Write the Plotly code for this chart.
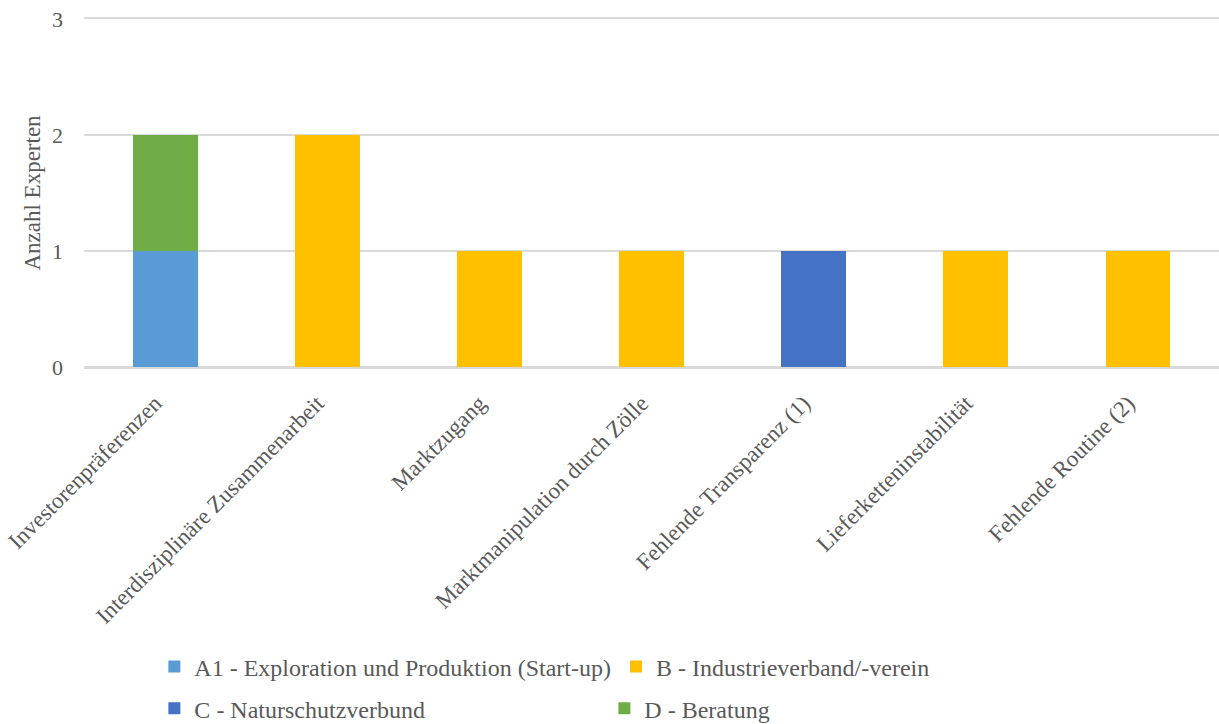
import plotly.graph_objects as go

# Kategorien (Hemmnisse) und Anzahl der Experten je Gruppe
categories = [
    "Investorenpräferenzen",
    "Interdisziplinäre Zusammenarbeit",
    "Marktzugang",
    "Marktmanipulation durch Zölle",
    "Fehlende Transparenz (1)",
    "Lieferketteninstabilität",
    "Fehlende Routine (2)",
]
a1_values = [1, 0, 0, 0, 0, 0, 0]
b_values = [0, 2, 1, 1, 0, 1, 1]
c_values = [0, 0, 0, 0, 1, 0, 0]
d_values = [1, 0, 0, 0, 0, 0, 0]

series_names = [
    "A1 - Exploration und Produktion (Start-up)",
    "B - Industrieverband/-verein",
    "C - Naturschutzverbund",
    "D - Beratung",
]
series_colors = ["#5B9BD5", "#FFC000", "#4472C4", "#70AD47"]
series_values = [a1_values, b_values, c_values, d_values]
series_legend = ["legend", "legend", "legend2", "legend2"]

y_ticks = [0, 1, 2, 3]

FONT = "Liberation Serif"
GREY = "#595959"
GRID = "#D9D9D9"

fig = go.Figure()
for name, color, vals, leg in zip(series_names, series_colors, series_values, series_legend):
    fig.add_trace(
        go.Bar(
            x=categories,
            y=[v if v else None for v in vals],
            name=name,
            marker=dict(color=color, line=dict(width=0)),
            width=0.4,
            legend=leg,
        )
    )

legend_style = dict(
    orientation="h",
    traceorder="normal",
    xanchor="left",
    yanchor="middle",
    x=0.062,
    font=dict(family=FONT, size=24, color=GREY),
    bgcolor="rgba(0,0,0,0)",
)

fig.update_layout(
    width=1219,
    height=724,
    barmode="stack",
    plot_bgcolor="white",
    paper_bgcolor="white",
    margin=dict(l=84, r=0, t=19, b=357, autoexpand=False),
    font=dict(family=FONT, color=GREY),
    # first legend row packs naturally, second row is aligned to the first as columns
    legend=dict(**legend_style, y=-0.862),
    legend2=dict(**legend_style, y=-0.982, entrywidth=405, entrywidthmode="pixels"),
    xaxis=dict(
        tickangle=-45,
        tickfont=dict(family=FONT, size=23, color=GREY),
        showgrid=False,
        # the mirrored axis line provides the top gridline at 3
        showline=True,
        mirror=True,
        linecolor=GRID,
        linewidth=1.5,
        ticks="",
        ticklabelshift=-10,
        ticklabelstandoff=12,
        automargin=False,
    ),
    yaxis=dict(
        range=[0, 3],
        tickvals=y_ticks,
        tickfont=dict(family=FONT, size=22, color=GREY),
        showgrid=True,
        gridcolor=GRID,
        gridwidth=1.5,
        zeroline=True,
        zerolinecolor=GRID,
        zerolinewidth=1.5,
        ticks="",
        ticklabelstandoff=20,
        automargin=False,
        title=dict(text="Anzahl Experten", font=dict(family=FONT, size=23, color=GREY), standoff=4),
    ),
)

fig.write_html("out.html")
